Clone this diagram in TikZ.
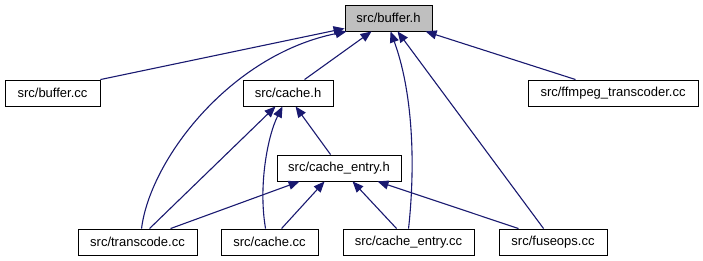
\documentclass[tikz,border=0pt]{standalone}
\usepackage{fontspec}
\setmainfont{Liberation Sans}
\usetikzlibrary{arrows.meta}
\definecolor{edgeblue}{HTML}{191970}
\definecolor{focusgray}{HTML}{BFBFBF}
\begin{document}
\begin{tikzpicture}[x=1pt,y=-1pt,
  file/.style={draw=black, line width=0.9pt, fill=white, minimum height=26pt,
    inner sep=0pt, font=\fontsize{13}{15}\selectfont},
  dep/.style={draw=edgeblue, line width=1.1pt,
    -{Triangle[length=11pt,width=9pt]}}]
\useasboundingbox (0,0) rectangle (703,261);
% files
\node[file, fill=focusgray, minimum width=87pt] (bh) at (388.5,18) {src/buffer.h};
\node[file, minimum width=95pt]  (bcc) at (52.5,93) {src/buffer.cc};
\node[file, minimum width=90pt]  (ch)  at (288,93) {src/cache.h};
\node[file, minimum width=170pt] (ff)  at (613,93) {src/ffmpeg\_transcoder.cc};
\node[file, minimum width=124pt] (ceh) at (339,168) {src/cache\_entry.h};
\node[file, minimum width=119pt] (tc)  at (137.5,242) {src/transcode.cc};
\node[file, minimum width=97pt]  (cc)  at (269.5,242) {src/cache.cc};
\node[file, minimum width=131pt] (cec) at (408.5,242) {src/cache\_entry.cc};
\node[file, minimum width=108pt] (fo)  at (553,242) {src/fuseops.cc};
% includes of src/buffer.h
\draw[dep] (bcc.north east) -- ([yshift=3pt]bh.south west);
\draw[dep] ([xshift=64pt]tc.north west) .. controls (150,160) and (230,55) .. ([xshift=2pt]bh.south west);
\draw[dep] ([xshift=62pt]ch.north west) -- ([xshift=27pt]bh.south west);
\draw[dep] ([xshift=66pt]cec.north west) .. controls (416,160) and (412,90) .. ([xshift=46pt]bh.south west);
\draw[dep] ([xshift=45pt]fo.north west) -- ([xshift=53pt]bh.south west);
\draw[dep] ([xshift=48pt]ff.north west) -- ([xshift=81pt]bh.south west);
% includes of src/cache.h
\draw[dep] ([xshift=72pt]tc.north west) -- ([xshift=33pt]ch.south west);
\draw[dep] ([xshift=45pt]cc.north west) .. controls (258,185) and (268,135) .. ([xshift=40pt]ch.south west);
\draw[dep] ([xshift=54pt]ceh.north west) -- ([xshift=53pt]ch.south west);
% includes of src/cache_entry.h
\draw[dep] ([xshift=93pt]tc.north west) -- ([xshift=23pt]ceh.south west);
\draw[dep] ([xshift=61pt]cc.north west) -- ([xshift=48pt]ceh.south west);
\draw[dep] ([xshift=54pt]cec.north west) -- ([xshift=76pt]ceh.south west);
\draw[dep] ([xshift=20pt]fo.north west) -- ([xshift=101pt]ceh.south west);
\end{tikzpicture}
\end{document}
